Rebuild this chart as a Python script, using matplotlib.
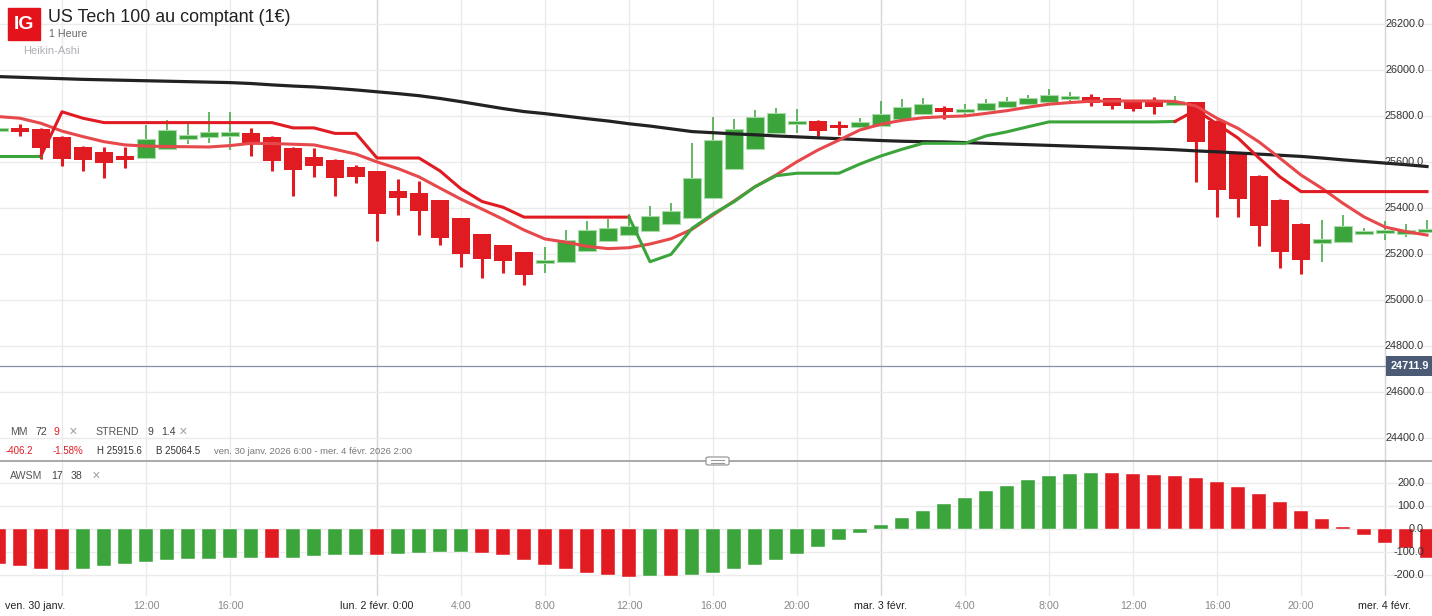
import numpy as np
import matplotlib
matplotlib.use("Agg")
import matplotlib.pyplot as plt
from matplotlib.patches import Rectangle, FancyBboxPatch
import matplotlib.transforms as mtransforms

plt.rcParams['font.family'] = ['Liberation Sans', 'DejaVu Sans']

# hourly bars, index 0 = ven. 30 janv. 6:00 (weekend gap removed)
bars = list(range(-1, 68))

opens = [25738, 25745, 25741, 25707, 25664, 25642, 25625, 25615, 25657, 25697,
         25706, 25715, 25725, 25707, 25659, 25620, 25607, 25576, 25558, 25471,
         25464, 25432, 25354, 25284, 25236, 25206, 25158, 25164, 25211, 25255,
         25283, 25300, 25329, 25357, 25442, 25567, 25654, 25723, 25767, 25777,
         25761, 25751, 25757, 25784, 25809, 25832, 25820, 25825, 25837, 25850,
         25861, 25874, 25883, 25876, 25867, 25863, 25848, 25858, 25777, 25632,
         25538, 25433, 25329, 25247, 25252, 25287, 25290, 25291, 25294]
highs = [25745, 25763, 25745, 25710, 25670, 25664, 25664, 25760, 25781, 25764,
         25816, 25815, 25747, 25710, 25662, 25658, 25610, 25586, 25560, 25525,
         25516, 25435, 25357, 25287, 25239, 25209, 25230, 25303, 25344, 25352,
         25373, 25407, 25420, 25680, 25794, 25784, 25825, 25832, 25828, 25783,
         25777, 25790, 25863, 25871, 25877, 25842, 25850, 25871, 25881, 25890,
         25915, 25903, 25893, 25879, 25870, 25881, 25887, 25861, 25780, 25635,
         25541, 25436, 25332, 25348, 25367, 25310, 25343, 25328, 25347]
lows = [25733, 25713, 25613, 25583, 25560, 25530, 25574, 25613, 25655, 25677,
        25683, 25651, 25626, 25561, 25452, 25535, 25452, 25509, 25257, 25368,
        25283, 25238, 25143, 25096, 25117, 25064, 25115, 25162, 25209, 25253,
        25281, 25298, 25327, 25355, 25440, 25565, 25652, 25721, 25726, 25712,
        25717, 25749, 25755, 25782, 25807, 25787, 25804, 25823, 25835, 25848,
        25859, 25860, 25843, 25830, 25820, 25809, 25846, 25513, 25361, 25361,
        25235, 25139, 25110, 25163, 25250, 25283, 25258, 25273, 25290]
closes = [25742, 25728, 25661, 25613, 25607, 25596, 25607, 25699, 25739, 25715,
          25729, 25726, 25683, 25604, 25566, 25583, 25530, 25535, 25374, 25443,
          25387, 25270, 25200, 25178, 25170, 25109, 25174, 25260, 25303, 25313,
          25320, 25363, 25386, 25530, 25693, 25743, 25796, 25812, 25777, 25735,
          25747, 25774, 25806, 25837, 25850, 25817, 25828, 25855, 25865, 25876,
          25889, 25884, 25855, 25843, 25830, 25839, 25863, 25684, 25476, 25437,
          25319, 25209, 25171, 25264, 25322, 25299, 25302, 25297, 25309]

mm72 = [25970, 25967, 25964, 25961, 25958, 25956, 25954, 25952, 25950, 25948,
        25946, 25944, 25940, 25934, 25929, 25925, 25919, 25912, 25904, 25896,
        25887, 25875, 25861, 25846, 25831, 25818, 25809, 25798, 25787, 25777,
        25765, 25755, 25743, 25731, 25726, 25721, 25717, 25712, 25708, 25704,
        25700, 25696, 25692, 25689, 25687, 25686, 25683, 25680, 25677, 25674,
        25671, 25668, 25665, 25662, 25659, 25656, 25652, 25647, 25643, 25638,
        25633, 25628, 25623, 25616, 25608, 25601, 25594, 25587, 25579]
mm9 = [25796, 25789, 25767, 25733, 25709, 25687, 25673, 25668, 25666, 25665,
       25664, 25670, 25680, 25679, 25676, 25673, 25654, 25633, 25599, 25570,
       25534, 25485, 25437, 25394, 25350, 25303, 25264, 25250, 25232, 25222,
       25226, 25242, 25265, 25306, 25368, 25429, 25491, 25542, 25600, 25651,
       25694, 25738, 25763, 25780, 25791, 25796, 25799, 25810, 25822, 25837,
       25850, 25857, 25863, 25864, 25864, 25864, 25862, 25842, 25789, 25745,
       25686, 25615, 25542, 25484, 25419, 25360, 25316, 25296, 25281]
strend = [25626, 25626, 25626, 25817, 25789, 25770, 25770, 25770, 25770, 25770,
          25770, 25770, 25770, 25770, 25747, 25747, 25723, 25723, 25616, 25616,
          25616, 25560, 25482, 25427, 25402, 25359, 25359, 25359, 25359, 25359,
          25359, 25165, 25197, 25310, 25373, 25426, 25491, 25539, 25550, 25550,
          25550, 25590, 25625, 25654, 25680, 25680, 25680, 25712, 25730, 25752,
          25773, 25773, 25773, 25773, 25773, 25773, 25775, 25825, 25764, 25703,
          25616, 25534, 25470, 25470, 25470, 25470, 25470, 25470, 25470]
trend = [1, 1, 1] + [-1] * 28 + [1] * 26 + [-1] * 12

awsm = [-151, -159, -171, -177, -171, -158, -151, -143, -133, -129,
        -127, -126, -125, -126, -123, -116, -113, -110, -112, -107,
        -103, -100, -99, -103, -113, -133, -154, -172, -188, -200,
        -206, -203, -205, -197, -188, -171, -154, -133, -107, -78,
        -48, -14, 17, 51, 81, 109, 136, 165, 190, 216,
        232, 241, 246, 244, 241, 236, 232, 222, 206, 183,
        152, 117, 81, 45, 9, -26, -59, -80, -126]

last_price = 24711.9
price_ticks = [24400, 24600, 24800, 25000, 25200, 25400, 25600, 25800, 26000, 26200]
awsm_ticks = [-200, -100, 0, 100, 200]
grid_bars = [2, 6, 10, 21, 25, 29, 33, 37, 45, 49, 53, 57, 61]
day_bars = [17, 41, 65]
tick_bars = [6, 10, 17, 21, 25, 29, 33, 37, 41, 45, 49, 53, 57, 61, 65]
tick_labels = ['12:00', '16:00', 'lun. 2 févr. 0:00', '4:00', '8:00', '12:00',
               '16:00', '20:00', 'mar. 3 févr.', '4:00', '8:00', '12:00',
               '16:00', '20:00', 'mer. 4 févr.']

GREEN = '#3ba43b'
RED = '#e01b22'
W, H = 1432, 616

fig = plt.figure(figsize=(W / 100, H / 100), dpi=100)
ax = fig.add_axes([0, 1 - 461 / H, 1, 461 / H])
ax2 = fig.add_axes([0, 1 - 596 / H, 1, 135 / H], sharex=ax)

x = np.array(bars)
o, h, l, c = (np.array(v, dtype=float) for v in (opens, highs, lows, closes))
up = c >= o
body_h = np.maximum(np.abs(c - o), 14)
body_lo = (o + c) / 2 - body_h / 2

ax.vlines(x[up], l[up], h[up], color=GREEN, lw=1.1, zorder=2)
ax.vlines(x[~up], l[~up], h[~up], color=RED, lw=2.2, zorder=2)
ax.bar(x[up], body_h[up], bottom=body_lo[up], width=0.86, color=GREEN,
       edgecolor='#a8dba8', lw=0.8, zorder=3)
ax.bar(x[~up], body_h[~up], bottom=body_lo[~up], width=0.86, color=RED,
       lw=0, zorder=3)

ax.plot(x, mm72, color='#222222', lw=2.3, zorder=4)
ax.plot(x, mm9, color='#e6484b', lw=2.2, zorder=4)

st = np.array(strend)
tr = np.array(trend)
start = 0
for k in range(1, len(st) + 1):
    if k == len(st) or tr[k] != tr[start]:
        s0 = max(start - 1, 0)
        ax.plot(x[s0:k], st[s0:k], color=GREEN if tr[start] > 0 else RED,
                lw=2.2, zorder=5)
        start = k

ax.axhline(last_price, color='#8592a6', lw=0.9, zorder=1)
ax.text(0.998, last_price, f'{last_price:.1f}',
        transform=mtransforms.blended_transform_factory(ax.transAxes, ax.transData),
        ha='right', va='center', color='white', fontsize=7.8, fontweight='bold', zorder=7,
        bbox=dict(boxstyle='square,pad=0.45', fc='#4b5b75', ec='none'))

# oscillator
aw = np.array(awsm, dtype=float)
aw_col = [RED] + [GREEN if d > 0 else RED for d in np.diff(aw)]
ax2.bar(x, aw, width=0.7, color=aw_col, edgecolor='#ffffff', lw=0.3, zorder=3)

ax.set_xlim(-20 / 21, (W - 20) / 21)
ax.set_ylim(24298.6, 26303.1)
ax2.set_ylim(-290, 297)

for a, yt in ((ax, price_ticks), (ax2, awsm_ticks)):
    a.set_yticks(yt)
    a.tick_params(axis='y', length=0, labelleft=False, labelright=False)
    tr_y = mtransforms.blended_transform_factory(a.transAxes, a.transData)
    for v in yt:
        a.text(1 - 8 / W, v, f'{v:.1f}', transform=tr_y, ha='right', va='center',
               fontsize=7.8, color='#333333', zorder=6)
    a.set_xticks(grid_bars)
    a.tick_params(axis='x', length=0, labelbottom=False)
    a.grid(True, color='#ebebeb', lw=1)
    a.set_axisbelow(True)
    for d in day_bars:
        a.axvline(d, color='#d4d4da', lw=1, zorder=0.5)
    for s in a.spines.values():
        s.set_visible(False)
    a.set_facecolor('white')

ax2.spines['top'].set_visible(True)
ax2.spines['top'].set_color('#a3a3a3')
ax2.spines['top'].set_linewidth(1.3)

# time axis labels
tb = mtransforms.blended_transform_factory(ax2.transData, fig.transFigure)
ax2.text(-0.72, 1 - 606 / H, 'ven. 30 janv.', transform=tb, ha='left', va='center',
         fontsize=7.7, color='#222222')
for b, t in zip(tick_bars, tick_labels):
    dark = b in day_bars
    ax2.text(b, 1 - 606 / H, t, transform=tb, ha='center', va='center',
             fontsize=7.7, color='#222222' if dark else '#8a8a8a')

# header
fig.add_artist(Rectangle((8 / W, 1 - 40 / H), 32 / W, 32 / H, transform=fig.transFigure,
                         color='#e3121b', zorder=10))
fig.text(24 / W, 1 - 24.5 / H, 'IG', color='white', fontsize=14, fontweight='bold',
         ha='center', va='center', zorder=11)
fig.text(48 / W, 1 - 18 / H, 'US Tech 100 au comptant (1€)', fontsize=12.9,
         color='#222222', va='center')
fig.text(49 / W, 1 - 34 / H, '1 Heure', fontsize=7.7, color='#666666', va='center')
fig.text(23 / W, 1 - 51 / H, 'Heikin-Ashi', fontsize=8, color='#aeaeb6', va='center')

def label_row(items, y):
    for px, txt, col, fs in items:
        fig.text(px / W, 1 - y / H, txt, color=col, fontsize=fs, va='center', zorder=12)

label_row([(10, 'MM', '#555555', 7.6), (35, '72', '#444444', 7.6), (54, '9', RED, 7.6),
           (69, '✕', '#a0a0a0', 7.6), (95.5, 'STREND', '#555555', 7.6), (147, '9', '#444444', 7.6),
           (161.5, '1.4', '#444444', 7.6), (179, '✕', '#a0a0a0', 7.6)], 432)
label_row([(5.5, '-406.2', RED, 7), (53, '-1.58%', RED, 7), (97, 'H 25915.6', '#333333', 7),
           (156, 'B 25064.5', '#333333', 7),
           (214, 'ven. 30 janv. 2026 6:00 - mer. 4 févr. 2026 2:00', '#777777', 6.8)], 451.5)
label_row([(10, 'AWSM', '#555555', 7.6), (51, '17', '#444444', 7.6), (71, '38', '#444444', 7.6),
           (92, '✕', '#a0a0a0', 7.6)], 476)

# splitter handle
fig.add_artist(FancyBboxPatch((706 / W, 1 - 465 / H), 23 / W, 8 / H,
                              boxstyle='round,pad=0,rounding_size=0.002',
                              transform=fig.transFigure, fc='white', ec='#9a9a9a', lw=0.9, zorder=12))
for yy in (459.5, 462.5):
    fig.add_artist(plt.Line2D([711 / W, 724 / W], [1 - yy / H, 1 - yy / H],
                              transform=fig.transFigure, color='#9a9a9a', lw=0.8, zorder=13))

fig.savefig('out.png', dpi=100, facecolor='white')
